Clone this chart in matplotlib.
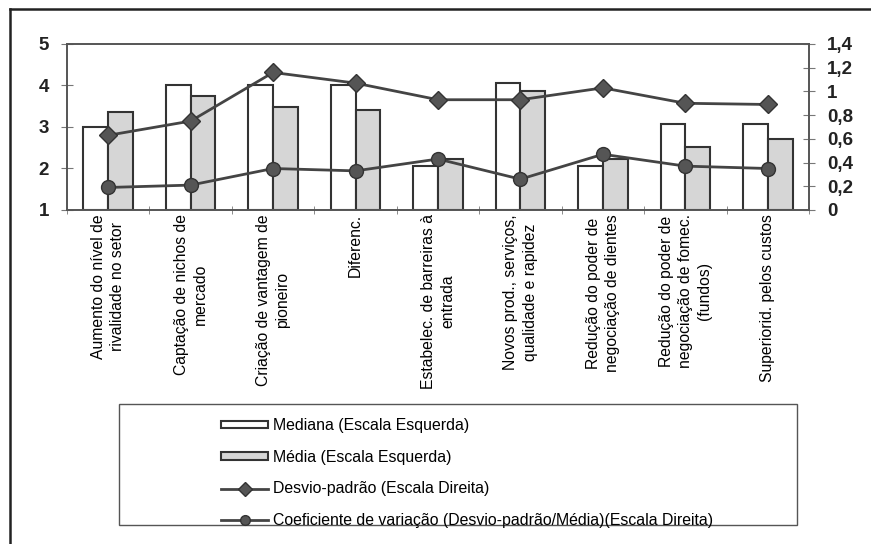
import numpy as np
import matplotlib
matplotlib.use('Agg')
from matplotlib import pyplot as plt
from matplotlib.patches import Rectangle, Patch
from matplotlib.lines import Line2D

plt.rcParams['font.family'] = ['Liberation Sans', 'DejaVu Sans']

categorias = ['Aumento do nível de\nrivalidade no setor',
              'Captação de nichos de\nmercado',
              'Criação de vantagem de\npioneiro',
              'Diferenc.',
              'Estabelec. de barreiras à\nentrada',
              'Novos prod., serviços,\nqualidade e rapidez',
              'Redução do poder de\nnegociação de dientes',
              'Redução do poder de\nnegociação de fomec.\n(fundos)',
              'Superiorid. pelos custos']
mediana = [3.0, 4.0, 4.02, 4.02, 2.05, 4.05, 2.05, 3.07, 3.07]
media = [3.36, 3.74, 3.48, 3.40, 2.23, 3.87, 2.24, 2.51, 2.70]
desvio = [0.63, 0.75, 1.16, 1.07, 0.93, 0.93, 1.03, 0.90, 0.89]
coef_var = [0.19, 0.21, 0.35, 0.33, 0.43, 0.26, 0.47, 0.37, 0.35]

left_ticks = [1, 2, 3, 4, 5]
right_ticks = [0, 0.2, 0.4, 0.6, 0.8, 1.0, 1.2, 1.4]
right_labels = ['0', '0,2', '0,4', '0,6', '0,8', '1', '1,2', '1,4']

dark = '#333333'
W, H = 871, 544

fig = plt.figure(figsize=(W / 100, H / 100), dpi=100)
ax = fig.add_axes([67 / W, 1 - 210 / H, (809 - 67) / W, (210 - 44) / H])

x = np.arange(len(categorias))
bw = 0.3
ax.bar(x - bw / 2, np.array(mediana) - 1, bw, bottom=1, color='white',
       edgecolor=dark, linewidth=1.5, zorder=2)
ax.bar(x + bw / 2, np.array(media) - 1, bw, bottom=1, color='#d6d6d6',
       edgecolor=dark, linewidth=1.5, zorder=2)
ax.set_xlim(-0.5, len(categorias) - 0.5)
ax.set_ylim(1, 5)
ax.set_yticks(left_ticks)
ax.set_yticklabels([str(v) for v in left_ticks], fontsize=13.5,
                   fontweight='bold', color='#222222')
ax.set_xticks(x)
ax.set_xticklabels(categorias, rotation=90, fontsize=11.3, va='top',
                   ha='center', multialignment='center', linespacing=1.35)
ax.set_xticks(np.arange(len(categorias) + 1) - 0.5, minor=True)
ax.tick_params(axis='x', which='major', length=0, pad=3)
ax.tick_params(axis='x', which='minor', direction='inout', length=6,
               color='#777777')
ax.tick_params(axis='y', direction='inout', length=8, pad=9,
               color='#777777')
for s in ax.spines.values():
    s.set_color('#555555')
    s.set_linewidth(1.2)

ax2 = ax.twinx()
ax2.plot(x, desvio, color='#444444', linewidth=2, marker='D', markersize=9.5,
         markerfacecolor='#555555', markeredgecolor='#333333', zorder=3)
ax2.plot(x, coef_var, color='#444444', linewidth=2, marker='o',
         markersize=10, markerfacecolor='#555555',
         markeredgecolor='#333333', zorder=3)
ax2.set_ylim(0, 1.4)
ax2.set_yticks(right_ticks)
ax2.set_yticklabels(right_labels, fontsize=13.5, fontweight='bold',
                    color='#222222')
ax2.tick_params(axis='y', direction='inout', length=8, pad=9,
                color='#777777')
for s in ax2.spines.values():
    s.set_color('#555555')
    s.set_linewidth(1.2)

# outer frame (left and top edges visible)
fig.add_artist(Line2D([10 / W, 10 / W], [0, 1 - 9 / H], color='#222222',
                      linewidth=1.8, transform=fig.transFigure))
fig.add_artist(Line2D([10 / W, 1], [1 - 9 / H, 1 - 9 / H], color='#222222',
                      linewidth=1.8, transform=fig.transFigure))

# legend box
fig.add_artist(Rectangle((119 / W, 1 - 525 / H), (797 - 119) / W,
                         (525 - 404) / H, fill=False, edgecolor='#555555',
                         linewidth=1.0, transform=fig.transFigure))
handles = [Patch(facecolor='white', edgecolor=dark, linewidth=1.5),
           Patch(facecolor='#d6d6d6', edgecolor=dark, linewidth=1.5),
           Line2D([], [], color='#444444', linewidth=2, marker='D',
                  markersize=7, markerfacecolor='#555555',
                  markeredgecolor='#333333'),
           Line2D([], [], color='#444444', linewidth=2, marker='o',
                  markersize=7, markerfacecolor='#555555',
                  markeredgecolor='#333333')]
labels = ['Mediana (Escala Esquerda)',
          'Média (Escala Esquerda)',
          'Desvio-padrão (Escala Direita)',
          'Coeficiente de variação (Desvio-padrão/Média)(Escala Direita)']
fig.legend(handles, labels, loc='center left',
           bbox_to_anchor=(213 / W, 1 - 473 / H), frameon=False,
           fontsize=11.4, handlelength=3.0, handleheight=0.35,
           handletextpad=0.3, labelspacing=1.05, borderpad=0)

fig.savefig('out.png', dpi=100)
